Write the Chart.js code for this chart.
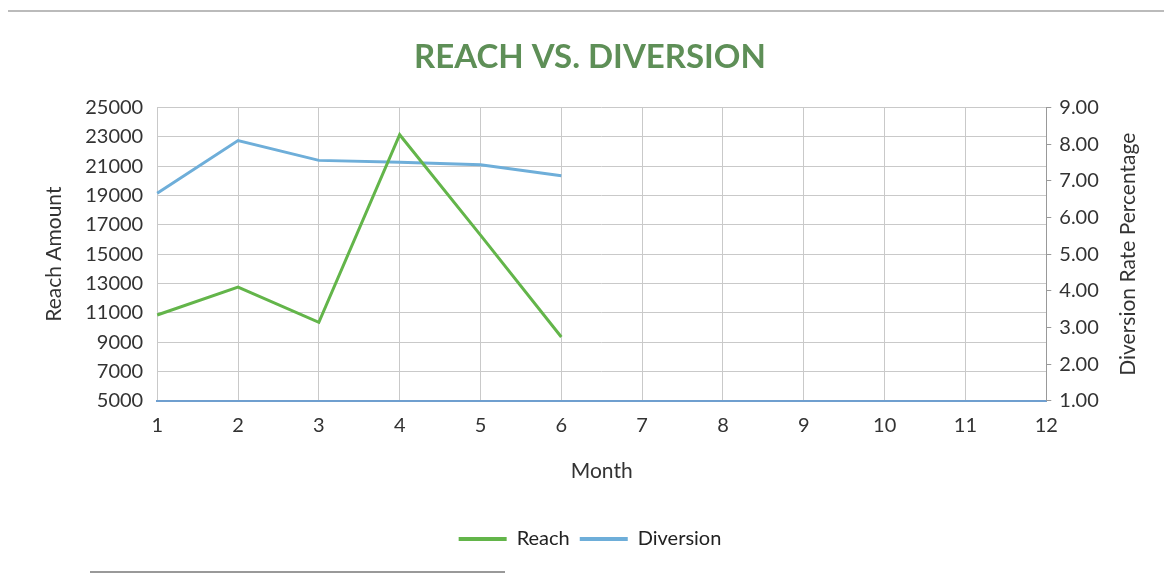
<!DOCTYPE html>
<html>
<head>
<meta charset="utf-8">
<script src="https://cdn.jsdelivr.net/npm/chart.js@4"></script>
<style>
  html, body { margin: 0; padding: 0; background: #fff; }
  #wrap { position: relative; width: 1164px; height: 576px; }
  #wrap::before { content: ''; position: absolute; left: 8px; right: 0; top: 10px; border-top: 2px solid #bbb; }
  #wrap::after { content: ''; position: absolute; left: 90px; width: 415px; top: 571px; border-top: 2px solid #999; }
</style>
</head>
<body>
<div id="wrap"><canvas id="myChart" width="1164" height="576"></canvas></div>
<script>
/* globals Chart:false */

// Data
const months = ['1', '2', '3', '4', '5', '6', '7', '8', '9', '10', '11', '12'];
const reach = [10850, 12750, 10350, 23150, 16300, 9350];
const diversion = [6.66, 8.10, 7.56, 7.51, 7.44, 7.14];

const green = '#63b54a';
const blue = '#6eaed9';
const font = 'Lato, "Open Sans", sans-serif';
const rightTitle = 'Diversion Rate Percentage';

// Right axis title reads bottom-to-top, so draw it ourselves
const rightTitlePlugin = {
  id: 'rightTitle',
  afterDraw(chart) {
    const s = chart.scales.y2;
    const c = chart.ctx;
    c.save();
    c.translate(s.right - 14, (s.top + s.bottom) / 2);
    c.rotate(-Math.PI / 2);
    c.fillStyle = '#333';
    c.font = '21px ' + font;
    c.textAlign = 'center';
    c.textBaseline = 'middle';
    c.fillText(rightTitle, 0, 0);
    c.restore();
  }
};

(() => {
  'use strict'

  const ctx = document.getElementById('myChart');

  // eslint-disable-next-line no-unused-vars
  const myChart = new Chart(ctx, {
    type: 'line',
    data: {
      labels: months,
      datasets: [{
        label: 'Reach',
        data: reach,
        yAxisID: 'y',
        borderColor: green,
        backgroundColor: green,
        borderWidth: 3,
        pointRadius: 0,
        lineTension: 0
      }, {
        label: 'Diversion',
        data: diversion,
        yAxisID: 'y2',
        borderColor: blue,
        backgroundColor: blue,
        borderWidth: 3,
        pointRadius: 0,
        lineTension: 0
      }]
    },
    options: {
      responsive: false,
      animation: false,
      layout: { padding: { left: 38, right: 22, top: 38, bottom: 17 } },
      plugins: {
        title: {
          display: true,
          text: 'REACH VS. DIVERSION',
          color: '#5e8f57',
          font: { family: font, size: 33, weight: 'bold' },
          padding: { top: 0, bottom: 30 }
        },
        legend: {
          position: 'bottom',
          labels: {
            color: '#222',
            font: { family: font, size: 20 },
            boxWidth: 48,
            boxHeight: 4,
            padding: 10,
            generateLabels: (chart) => Chart.defaults.plugins.legend.labels.generateLabels(chart)
              .map(l => Object.assign(l, { lineWidth: 0 }))
          }
        },
        tooltip: { enabled: false }
      },
      scales: {
        x: {
          offset: false,
          title: {
            display: true,
            text: 'Month',
            color: '#333',
            font: { family: font, size: 21 },
            padding: { top: 8, bottom: 35 }
          },
          grid: { color: '#c9c9c9', drawTicks: false },
          border: { color: '#6f9fcf', width: 2 },
          ticks: { color: '#333', font: { family: font, size: 20 }, padding: 13, maxRotation: 0 }
        },
        y: {
          position: 'left',
          min: 5000,
          max: 25000,
          title: {
            display: true,
            text: 'Reach Amount',
            color: '#333',
            font: { family: font, size: 21 },
            padding: { bottom: 4 }
          },
          grid: { color: '#c9c9c9', drawTicks: false },
          border: { display: false },
          ticks: {
            stepSize: 2000,
            color: '#333',
            font: { family: font, size: 20 },
            padding: 14,
            callback: (v) => String(v)
          }
        },
        y2: {
          position: 'right',
          min: 1,
          max: 9,
          title: {
            display: true,
            text: rightTitle,
            color: 'rgba(0,0,0,0)',
            font: { family: font, size: 21 },
            padding: { top: 6 }
          },
          grid: { drawOnChartArea: false, color: '#999', tickLength: 5 },
          border: { color: '#999' },
          ticks: {
            stepSize: 1,
            color: '#333',
            font: { family: font, size: 20 },
            padding: 8,
            callback: (v) => Number(v).toFixed(2)
          }
        }
      }
    },
    plugins: [rightTitlePlugin]
  })
}
)()
</script>
</body>
</html>
